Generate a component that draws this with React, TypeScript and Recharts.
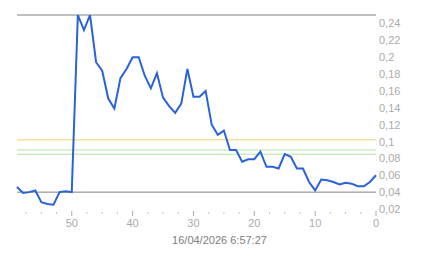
import React from 'react';
import { LineChart, Line, XAxis, YAxis, ReferenceLine } from 'recharts';

const xValues: number[] = [59,58,57,56,55,54,53,52,51,50,49,48,47,46,45,44,43,42,41,40,39,38,37,36,35,34,33,32,31,30,29,28,27,26,25,24,23,22,21,20,19,18,17,16,15,14,13,12,11,10,9,8,7,6,5,4,3,2,1,0];
const seriesValues: number[] = [0.046,0.039,0.040,0.042,0.028,0.026,0.025,0.040,0.041,0.040,0.250,0.232,0.250,0.194,0.184,0.151,0.139,0.175,0.186,0.200,0.200,0.178,0.163,0.181,0.152,0.142,0.134,0.145,0.186,0.153,0.153,0.160,0.120,0.108,0.113,0.090,0.090,0.076,0.079,0.079,0.088,0.070,0.070,0.068,0.085,0.082,0.068,0.068,0.052,0.042,0.055,0.054,0.052,0.049,0.051,0.050,0.047,0.047,0.052,0.060];
const xTicks: number[] = [0,2.5,5,7.5,10,12.5,15,17.5,20,22.5,25,27.5,30,32.5,35,37.5,40,42.5,45,47.5,50,52.5,55,57.5];
const yTicks: number[] = [0.02,0.04,0.06,0.08,0.1,0.12,0.14,0.16,0.18,0.2,0.22,0.24];
const grayLines: number[] = [0.25, 0.04];
const yellowLines: number[] = [0.102];
const greenLines: number[] = [0.09, 0.085];
const dateLabel = '16/04/2026 6:57:27';

const data = xValues.map((x, i) => ({ x, v: seriesValues[i] }));

const FONT = '"Liberation Sans", Arial, sans-serif';

const fmt = (v: number) => Number(v.toFixed(2)).toString().replace('.', ',');

const XTick = (props: any) => {
  const { x, y, payload } = props;
  const val = payload.value as number;
  const major = Math.abs(val % 10) < 1e-9;
  if (major) {
    return (
      <g>
        <line x1={x} x2={x} y1={y + 2} y2={y + 7} stroke="#aaaaaa" strokeWidth={1} />
        <text x={x} y={y + 18} textAnchor="middle" fontSize={11} fill="#aaaaaa" fontFamily={FONT}>
          {String(val)}
        </text>
      </g>
    );
  }
  return <line x1={x} x2={x} y1={y + 3} y2={y + 5} stroke="#c4c4c4" strokeWidth={1} />;
};

const YTick = (props: any) => {
  const { x, y, payload } = props;
  return (
    <text x={x + 1} y={y + 4} textAnchor="start" fontSize={11} fill="#aaaaaa" fontFamily={FONT}>
      {fmt(payload.value)}
    </text>
  );
};

const DateLabel = (props: any) => {
  const vb = props.viewBox || {};
  const cx = (vb.x || 0) + (vb.width || 0) / 2 + 23;
  const cy = (vb.y || 0) + 35;
  return (
    <text x={cx} y={cy} textAnchor="middle" fontSize={11} fill="#808080" fontFamily={FONT}>
      {dateLabel}
    </text>
  );
};

export default function App() {
  return (
    <div style={{ position: 'absolute', left: 0, top: 0, width: 443, height: 258, background: '#fff' }}>
      <LineChart
        width={443}
        height={258}
        data={data}
        margin={{ top: 15, right: 27, left: 17, bottom: 19 }}
      >
        <XAxis
          dataKey="x"
          type="number"
          domain={[0, 59]}
          reversed
          ticks={xTicks}
          interval={0}
          axisLine={false}
          tickLine={false}
          tickSize={0}
          tickMargin={0}
          height={30}
          tick={<XTick />}
          label={<DateLabel />}
        />
        <YAxis
          orientation="right"
          type="number"
          domain={[0.02, 0.25]}
          ticks={yTicks}
          interval={0}
          axisLine={false}
          tickLine={false}
          tickSize={0}
          tickMargin={2}
          width={40}
          tick={<YTick />}
          allowDataOverflow
        />
        {yellowLines.map((v) => (
          <ReferenceLine key={'y' + v} y={v} stroke="#ebd26c" strokeWidth={1} />
        ))}
        {greenLines.map((v) => (
          <ReferenceLine key={'g' + v} y={v} stroke="#b6e2a2" strokeWidth={1} />
        ))}
        {grayLines.map((v) => (
          <ReferenceLine key={'k' + v} y={v} stroke="#808080" strokeWidth={1} />
        ))}
        <Line
          dataKey="v"
          type="linear"
          stroke="#2a62d8"
          strokeWidth={2}
          dot={false}
          isAnimationActive={false}
        />
      </LineChart>
    </div>
  );
}
